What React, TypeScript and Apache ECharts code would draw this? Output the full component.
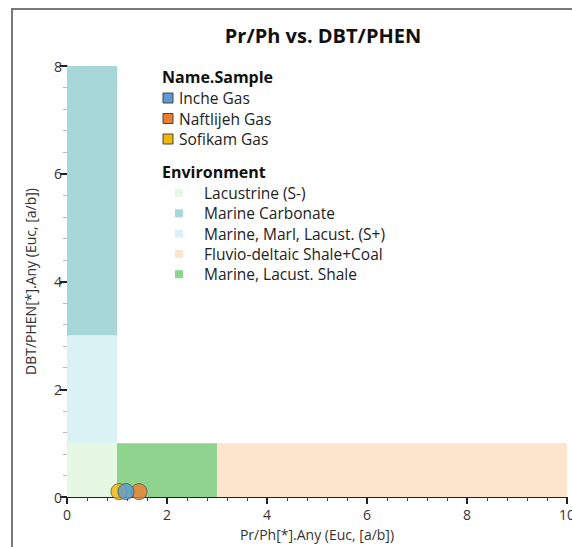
import React, { useEffect, useRef } from "react";
import * as echarts from "echarts";

// Environment fields: [xMin, xMax, yMin, yMax]
const envNames = [
  "Lacustrine (S-)",
  "Marine Carbonate",
  "Marine, Marl, Lacust. (S+)",
  "Fluvio-deltaic Shale+Coal",
  "Marine, Lacust. Shale",
];
const envColors = ["#e4f8e3", "#a8d7da", "#dbf2f5", "#fde5cd", "#8ed48e"];
const envBoxes: number[][] = [
  [0, 1, 0, 1],
  [0, 1, 3, 8],
  [0, 1, 1, 3],
  [3, 10, 0, 1],
  [1, 3, 0, 1],
];

// Gas samples: Pr/Ph, DBT/PHEN
const sampleNames = ["Inche Gas", "Naftlijeh Gas", "Sofikam Gas"];
const sampleColors = ["#5b9bd5", "#ed7d31", "#f2b705"];
const samplePrPh = [1.18, 1.44, 1.04];
const sampleDbtPhen = [0.1, 0.1, 0.1];
// drawing order so the blue marker sits on top
const drawOrder = [2, 1, 0];

const FONT = "'Open Sans', 'Noto Sans', sans-serif";

export default function App() {
  const ref = useRef<HTMLDivElement>(null);

  useEffect(() => {
    if (!ref.current) return;
    const chart = echarts.init(ref.current, null, { renderer: "svg" });

    const envSeries = {
      type: "custom",
      name: "Environment",
      silent: true,
      z: 1,
      renderItem: (params: any, api: any) => {
        const i = params.dataIndex;
        const p0 = api.coord([api.value(0), api.value(3)]);
        const p1 = api.coord([api.value(1), api.value(2)]);
        return {
          type: "rect",
          shape: { x: p0[0], y: p0[1], width: p1[0] - p0[0], height: p1[1] - p0[1] },
          style: { fill: envColors[i] },
        };
      },
      data: envBoxes,
      encode: { x: [0, 1], y: [2, 3] },
    };

    const sampleSeries = drawOrder.map((i) => ({
      type: "scatter",
      name: sampleNames[i],
      symbol: "circle",
      symbolSize: 16,
      z: 5,
      itemStyle: { color: sampleColors[i], borderColor: "#555", borderWidth: 1 },
      data: [[samplePrPh[i], sampleDbtPhen[i]]],
    }));

    // Legend blocks drawn as graphics
    const legend: any[] = [];
    legend.push({
      type: "text",
      x: 162,
      y: 77,
      style: { text: "Name.Sample", font: `bold 16px ${FONT}`, fill: "#111", verticalAlign: "middle" },
    });
    sampleNames.forEach((n, i) => {
      const y = 98 + i * 20.5;
      legend.push({
        type: "rect",
        shape: { x: 163, y: y - 5, width: 10, height: 10 },
        style: { fill: sampleColors[i], stroke: "#444", lineWidth: 1 },
      });
      legend.push({
        type: "text",
        x: 179,
        y: y,
        style: { text: n, font: `15.5px ${FONT}`, fill: "#222", verticalAlign: "middle" },
      });
    });
    legend.push({
      type: "text",
      x: 162,
      y: 172,
      style: { text: "Environment", font: `bold 16px ${FONT}`, fill: "#111", verticalAlign: "middle" },
    });
    envNames.forEach((n, i) => {
      const y = 193 + i * 20.3;
      legend.push({
        type: "rect",
        shape: { x: 175, y: y - 4, width: 8, height: 8 },
        style: { fill: envColors[i] },
      });
      legend.push({
        type: "text",
        x: 204,
        y: y,
        style: { text: n, font: `15.5px ${FONT}`, fill: "#222", verticalAlign: "middle" },
      });
    });
    // outer frame
    legend.push({
      type: "polyline",
      shape: { points: [[12, 547], [12, 9], [572, 9]] },
      style: { stroke: "#7a7a7a", lineWidth: 2, fill: "none" },
    });

    const axisCommon = {
      type: "value",
      interval: 2,
      splitLine: { show: false },
      axisLine: { show: true, lineStyle: { color: "#222", width: 1 } },
      axisTick: { show: true, length: 7, lineStyle: { color: "#222", width: 2 } },
      minorTick: { show: true, splitNumber: 5, length: 4, lineStyle: { color: "#444", width: 1 } },
      axisLabel: { color: "#333", fontSize: 14, fontFamily: FONT },
      nameTextStyle: { color: "#333", fontSize: 14, fontFamily: FONT },
    };

    chart.setOption({
      animation: false,
      backgroundColor: "#fff",
      title: {
        text: "Pr/Ph vs. DBT/PHEN",
        left: 318,
        top: 20,
        textAlign: "center",
        textStyle: { fontSize: 20, fontWeight: "bold", color: "#111", fontFamily: FONT },
      },
      grid: {
        left: 67,
        top: 66,
        width: 500,
        height: 431,
        containLabel: false,
        outerBoundsMode: "none",
      },
      xAxis: {
        ...axisCommon,
        min: 0,
        max: 10,
        name: "Pr/Ph[*].Any (Euc, [a/b])",
        nameLocation: "middle",
        nameGap: 30,
        axisLabel: { ...axisCommon.axisLabel, margin: 10 },
      },
      yAxis: {
        ...axisCommon,
        min: 0,
        max: 8,
        name: "DBT/PHEN[*].Any (Euc, [a/b])",
        nameLocation: "middle",
        nameGap: 30,
        minorTick: { ...axisCommon.minorTick, lineStyle: { color: "#bbb", width: 1 } },
        axisLabel: { ...axisCommon.axisLabel, margin: 5 },
      },
      graphic: legend,
      series: [envSeries, ...sampleSeries],
    });

    return () => chart.dispose();
  }, []);

  return (
    <div
      ref={ref}
      style={{ position: "fixed", left: 0, top: 0, width: 572, height: 547 }}
    />
  );
}
